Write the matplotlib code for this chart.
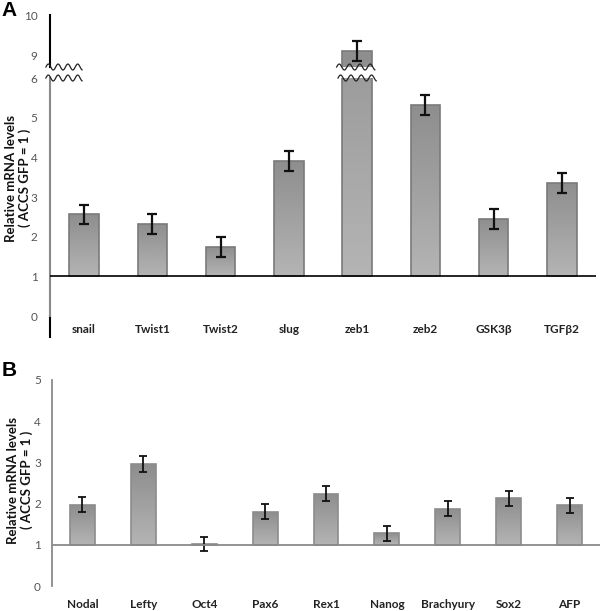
import numpy as np
import matplotlib
matplotlib.use("Agg")
import matplotlib.pyplot as plt
from matplotlib.colors import LinearSegmentedColormap
from matplotlib.transforms import IdentityTransform

plt.rcParams['font.family'] = ['Lato', 'DejaVu Sans']

# panel A data
genes_a = ['snail', 'Twist1', 'Twist2', 'slug', 'zeb1', 'zeb2', 'GSK3β', 'TGFβ2']
vals_a = [2.56, 2.32, 1.74, 3.91, 9.1, 5.32, 2.44, 3.35]
err_a = [0.25, 0.25, 0.24, 0.26, 0.25, 0.25, 0.25, 0.26]
# panel B data
genes_b = ['Nodal', 'Lefty', 'Oct4', 'Pax6', 'Rex1', 'Nanog', 'Brachyury', 'Sox2', 'AFP']
vals_b = [1.97, 2.96, 1.02, 1.80, 2.24, 1.28, 1.88, 2.13, 1.96]
err_b = [0.18, 0.20, 0.18, 0.18, 0.18, 0.18, 0.18, 0.18, 0.18]

base = 1.0
cmap = LinearSegmentedColormap.from_list('g', ['#b4b4b4', '#8e8e8e'])
grad = np.linspace(0, 1, 100).reshape(-1, 1)
tickcol = '#555555'


def grad_bars(ax, x, vals, width, ec):
    bars = ax.bar(x, np.array(vals) - base, bottom=base, width=width,
                  color='none', edgecolor=ec, linewidth=1.2, zorder=3)
    for b in bars:
        x0 = b.get_x()
        y0 = b.get_y()
        im = ax.imshow(grad, cmap=cmap, origin='lower', aspect='auto',
                       extent=[x0, x0 + b.get_width(), y0, y0 + b.get_height()],
                       zorder=2)
        # clip with the bar's path (keeps the axes clip box too)
        im.set_clip_path(b.get_path(), b.get_transform())
    return bars


def wave(fig, ax, xd0, xd1, ya):
    # wavy break mark, x in data, y in axes fraction, drawn in pixels
    xs = np.linspace(xd0, xd1, 80)
    pts = ax.transData.transform(np.column_stack([xs, np.zeros_like(xs)]))
    ypix = ax.transAxes.transform((0, ya))[1]
    px = pts[:, 0]
    py = ypix + 3 * np.sin((px - px[0]) / (px[-1] - px[0]) * 2 * np.pi * 3.7)
    fig.add_artist(plt.Line2D(px, py, transform=IdentityTransform(),
                              color='#222222', lw=0.9, zorder=10))


fig = plt.figure(figsize=(6, 6.11), dpi=100)

# ---------- panel A ----------
xa = np.arange(len(genes_a))
axl = fig.add_axes([0.0833, 0.4828, 0.91, 0.3895])
axu = fig.add_axes([0.0833, 0.8903, 0.91, 0.0851])
for ax in (axl, axu):
    grad_bars(ax, xa, vals_a, 0.43, '#7a7a7a')
    ax.errorbar(xa, vals_a, yerr=err_a, fmt='none', ecolor='#111111',
                elinewidth=1.6, capsize=3.5, capthick=1.6, zorder=4)
    ax.set_xlim(-0.5, len(genes_a) - 0.5)
    for s in ('top', 'right', 'bottom'):
        ax.spines[s].set_visible(False)
    ax.tick_params(axis='y', length=0, pad=9, labelsize=8.5, labelcolor=tickcol)
axl.set_ylim(0, 6)
axl.set_yticks(range(0, 7))
axl.spines['left'].set_color('#8a8a8a')
axl.spines['left'].set_linewidth(1.5)
axl.plot([0, 0], [-0.09, 0.0], transform=axl.transAxes, color='black',
         lw=1.5, clip_on=False)
axl.axhline(base, color='black', lw=1.2, zorder=5)
axl.set_xticks(xa)
axl.set_xticklabels(genes_a, fontweight='bold', fontsize=8.5, color='#222222')
axl.tick_params(axis='x', length=0, pad=6)

axu.set_ylim(8.7, 10)
axu.set_yticks([9, 10])
axu.spines['left'].set_color('black')
axu.spines['left'].set_linewidth(1.5)
axu.set_xticks([])

iz = genes_a.index('zeb1')
wave(fig, axl, xa[iz] - 0.28, xa[iz] + 0.28, 1.0)
wave(fig, axu, xa[iz] - 0.30, xa[iz] + 0.26, 0.0)
wave(fig, axl, -0.56, -0.03, 1.0)
wave(fig, axu, -0.56, -0.03, 0.0)

fig.text(0.03, (611 - 178) / 611, 'Relative mRNA levels\n( ACCS GFP = 1 )',
         rotation=90, ha='center', va='center', multialignment='center',
         fontsize=9.5, fontweight='bold', color='#111111', linespacing=1.1)
fig.text(0.003, 0.998, 'A', fontsize=15, fontweight='bold', va='top',
         family=['Liberation Sans', 'DejaVu Sans'])

# ---------- panel B ----------
xb = np.arange(len(genes_b))
axb = fig.add_axes([0.0867, 0.0409, 0.9133, 0.3372])
grad_bars(axb, xb, vals_b, 0.41, '#8c8c8c')
axb.errorbar(xb, vals_b, yerr=err_b, fmt='none', ecolor='#111111',
             elinewidth=1.3, capsize=2.6, capthick=1.3, zorder=4)
axb.set_xlim(-0.5, len(genes_b) - 0.5)
axb.set_ylim(0, 5)
axb.set_yticks(range(0, 6))
for s in ('top', 'right', 'bottom'):
    axb.spines[s].set_visible(False)
axb.spines['left'].set_color('#8a8a8a')
axb.spines['left'].set_linewidth(1.3)
axb.axhline(base, color='#8a8a8a', lw=1.3, zorder=5)
axb.tick_params(axis='y', length=0, pad=8, labelsize=8.5, labelcolor=tickcol)
axb.set_xticks(xb)
axb.set_xticklabels(genes_b, fontweight='bold', fontsize=8.5, color='#222222')
axb.tick_params(axis='x', length=0, pad=9)

fig.text(0.033, (611 - 480) / 611, 'Relative mRNA levels\n( ACCS GFP = 1 )',
         rotation=90, ha='center', va='center', multialignment='center',
         fontsize=9.5, fontweight='bold', color='#111111', linespacing=1.1)
fig.text(0.003, (611 - 361) / 611, 'B', fontsize=15, fontweight='bold', va='top',
         family=['Liberation Sans', 'DejaVu Sans'])

fig.savefig('out.png', dpi=100)
